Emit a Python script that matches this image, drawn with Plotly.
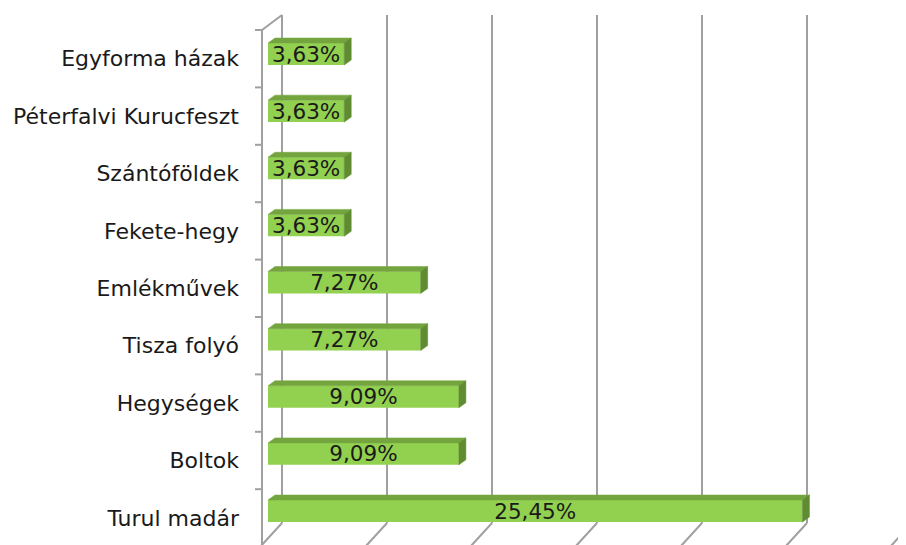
import plotly.graph_objects as go

# ---- data (top to bottom) ----
categories = ["Egyforma házak", "Péterfalvi Kurucfeszt", "Szántóföldek", "Fekete-hegy",
              "Emlékművek", "Tisza folyó", "Hegységek", "Boltok", "Turul madár"]
values = [3.63, 3.63, 3.63, 3.63, 7.27, 7.27, 9.09, 9.09, 25.45]
x_ticks = [0, 5, 10, 15, 20, 25, 30]

# ---- geometry helpers (page pixels -> paper); page body has an 8px margin ----
W, H = 906, 545
OFF = 8
PX_PER_UNIT = 21.0          # pixels per percentage point
def px(x):
    return (x - OFF) / W
def py(y):
    return 1 - (y - OFF) / H

FRONT_X0, BACK_X0, BAR_X0 = 262, 282, 268
FRONT_TOP, FRONT_STEP = 30, 57.4
BACK_TOP, BACK_BOT = 15, 523
BAR_C0, BAR_STEP = 54, 57.125
BAR_W = 0.385
DEPTH_X, DEPTH_Y = 7, 5     # pixels
GRID = "#a0a0a0"
FONT = "DejaVu Sans"
LABEL_SIZE = 22
BAR_TEXT_SIZE = 21.5

n = len(categories)
idx = list(range(n))
labels = [f"{v:.2f}".replace(".", ",") + "%" for v in values]

fig = go.Figure()

# back wall subplot (x / y): gridlines only
fig.add_trace(go.Scatter(x=[0], y=[0], mode="markers", marker=dict(opacity=0),
                         hoverinfo="skip", showlegend=False, xaxis="x", yaxis="y"))
# front plane subplot (x2 / y2): category labels
fig.add_trace(go.Scatter(x=[0] * n, y=idx, mode="markers", marker=dict(opacity=0),
                         hoverinfo="skip", showlegend=False, xaxis="x2", yaxis="y2"))

# bars (x3 / y3)
fig.add_trace(go.Bar(
    x=values, y=idx, orientation="h", width=BAR_W,
    marker=dict(color="#92D050", line=dict(width=0)),
    text=labels, textposition="inside", insidetextanchor="middle",
    constraintext="none",
    textfont=dict(family=FONT, size=BAR_TEXT_SIZE, color="#1a1a1a"),
    hoverinfo="skip", showlegend=False, xaxis="x3", yaxis="y3"))

# 3D faces computed from the values
dxu = DEPTH_X / PX_PER_UNIT
dyu = DEPTH_Y / BAR_STEP
top_x, top_y, side_x, side_y = [], [], [], []
for i, v in enumerate(values):
    yt = i - BAR_W / 2
    yb = i + BAR_W / 2
    top_x += [0, v, v + dxu, dxu, 0, None]
    top_y += [yt, yt, yt - dyu, yt - dyu, yt, None]
    side_x += [v, v + dxu, v + dxu, v, v, None]
    side_y += [yt, yt - dyu, yb - dyu, yb, yt, None]
fig.add_trace(go.Scatter(x=top_x, y=top_y, mode="lines", fill="toself",
                         fillcolor="#74A43E", line=dict(width=0.5, color="#74A43E"),
                         hoverinfo="skip", showlegend=False, xaxis="x3", yaxis="y3"))
fig.add_trace(go.Scatter(x=side_x, y=side_y, mode="lines", fill="toself",
                         fillcolor="#5F8C30", line=dict(width=0.5, color="#5F8C30"),
                         hoverinfo="skip", showlegend=False, xaxis="x3", yaxis="y3"))

# ---- axes ----
axis_off = dict(showgrid=False, zeroline=False, showticklabels=False, showline=False, ticks="")

fig.update_layout(
    width=W, height=H,
    margin=dict(l=0, r=0, t=0, b=0),
    paper_bgcolor="white", plot_bgcolor="rgba(0,0,0,0)",
    showlegend=False,
    # back wall
    xaxis=dict(domain=[px(BACK_X0), 1], range=[0, (W + OFF - BACK_X0) / PX_PER_UNIT],
               tickmode="array", tickvals=x_ticks, showgrid=True, gridcolor=GRID, gridwidth=2,
               zeroline=True, zerolinecolor=GRID, zerolinewidth=2,
               showticklabels=False, showline=False, ticks="", anchor="y", fixedrange=True),
    yaxis=dict(domain=[py(BACK_BOT), py(BACK_TOP)], range=[0, 1], anchor="x",
               **axis_off, fixedrange=True),
    # front plane
    xaxis2=dict(domain=[px(FRONT_X0), 1], range=[0, (W + OFF - FRONT_X0) / PX_PER_UNIT],
                anchor="y2", **axis_off, fixedrange=True),
    yaxis2=dict(domain=[0, 1],
                range=[-0.5 + (H + OFF - FRONT_TOP) / FRONT_STEP,
                       -0.5 - (FRONT_TOP - OFF) / FRONT_STEP],
                anchor="x2", tickmode="array", tickvals=idx, ticktext=categories,
                ticks="", showgrid=False, zeroline=False, showline=False,
                ticklabelstandoff=22,
                tickfont=dict(family=FONT, size=LABEL_SIZE, color="#1a1a1a"), fixedrange=True),
    # bars plane
    xaxis3=dict(domain=[px(BAR_X0), 1], range=[0, (W + OFF - BAR_X0) / PX_PER_UNIT],
                anchor="y3", **axis_off, fixedrange=True),
    yaxis3=dict(domain=[py(BAR_C0 + BAR_STEP * (n - 0.5)), py(BAR_C0 - BAR_STEP * 0.5)],
                range=[n - 0.5, -0.5], anchor="x3", **axis_off, fixedrange=True),
)

# ---- 3D frame decoration (paper coordinates) ----
shapes = []
line = dict(color=GRID, width=2)
shapes.append(dict(type="line", xref="paper", yref="paper",
                   x0=px(FRONT_X0), y0=py(FRONT_TOP), x1=px(FRONT_X0), y1=0, line=line))
shapes.append(dict(type="line", xref="paper", yref="paper",
                   x0=px(FRONT_X0), y0=py(FRONT_TOP), x1=px(BACK_X0), y1=py(BACK_TOP), line=line))
for k in range(len(x_ticks)):
    bx = BACK_X0 + 5 * k * PX_PER_UNIT
    shapes.append(dict(type="line", xref="paper", yref="paper",
                       x0=px(bx), y0=py(BACK_BOT), x1=px(bx - 22), y1=py(BACK_BOT + 24),
                       line=line))
for k in range(n + 1):
    ty = FRONT_TOP + FRONT_STEP * k
    if ty <= H:
        shapes.append(dict(type="line", xref="paper", yref="paper",
                           x0=px(FRONT_X0 - 7), y0=py(ty), x1=px(FRONT_X0), y1=py(ty), line=line))
fig.update_layout(shapes=shapes)

fig.write_html("out.html")
